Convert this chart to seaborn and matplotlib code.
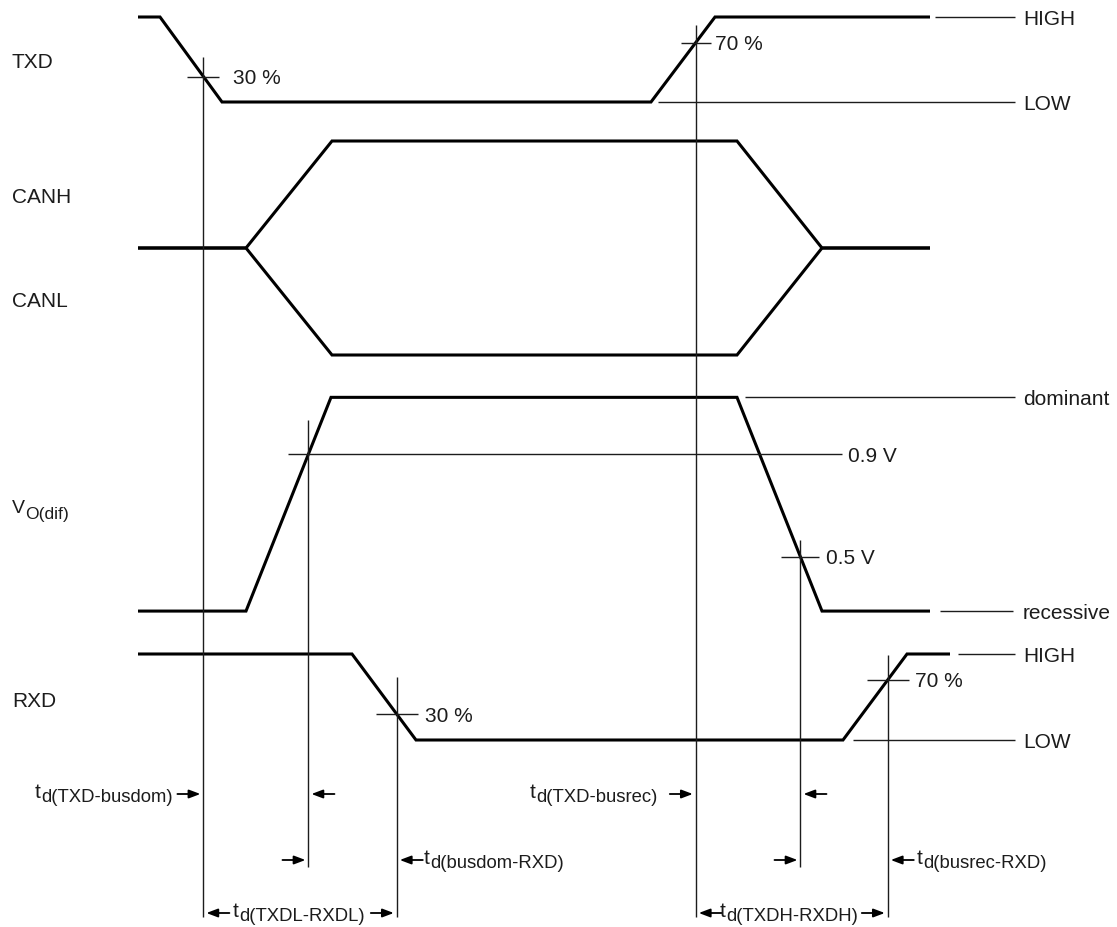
import numpy as np
import pandas as pd
import matplotlib
matplotlib.use("Agg")
import matplotlib.pyplot as plt
import seaborn as sns
from matplotlib.font_manager import FontProperties

# ---------------------------------------------------------------------------
# Waveform data: breakpoint times (arbitrary time units) and signal levels
# ---------------------------------------------------------------------------
txd_time = [138, 160, 222, 651, 715, 930]
txd_level = [1, 1, 0, 0, 1, 1]                 # logic level, 0 = LOW, 1 = HIGH

can_time = [138, 246, 332, 737, 822, 930]
canh_level = [0, 0, 1, 1, 0, 0]                # normalised swing, 0 = recessive
canl_level = [0, 0, -1, -1, 0, 0]

vdif_time = [138, 246, 331, 737, 822, 930]
vdif_level = [0.29, 0.29, 1.12, 1.12, 0.29, 0.29]   # differential voltage, V

rxd_time = [138, 352, 416, 843, 907, 950]
rxd_level = [1, 1, 0, 0, 1, 1]

# measurement thresholds
txd_fall_thr, txd_rise_thr = 0.30, 0.70
vdif_rise_thr, vdif_fall_thr = 0.9, 0.5
rxd_fall_thr, rxd_rise_thr = 0.30, 0.70

signal_names = ["TXD", "CANH", "CANL", "RXD"]
level_names = ["HIGH", "LOW", "dominant", "recessive"]

# ---------------------------------------------------------------------------
# Layout: each row maps a level to a vertical position  (y = zero + gain*level)
# ---------------------------------------------------------------------------
ROWS = {
    "TXD": (102.0, -85.0),
    "CAN": (248.0, -107.0),
    "VDIF": (685.75, -257.5),
    "RXD": (740.0, -86.0),
}
W, H = 1117, 927
INK = "#1c1c1c"
THICK = 2.2
THIN = 1.0
FS = 15.0
SUB_FS = 13.3


def ypos(row, level):
    zero, gain = ROWS[row]
    return zero + gain * np.asarray(level, dtype=float)


def crossing(time, level, thr, rising):
    t = np.asarray(time, float)
    lv = np.asarray(level, float)
    for i in range(len(t) - 1):
        a, b = lv[i], lv[i + 1]
        if (rising and a < thr <= b) or ((not rising) and a > thr >= b):
            return t[i] + (thr - a) / (b - a) * (t[i + 1] - t[i])
    raise ValueError("threshold not crossed")


sns.set_theme(style="white")
plt.rcParams["font.family"] = ["Liberation Sans", "DejaVu Sans"]

fig = plt.figure(figsize=(W / 100, H / 100), dpi=100)
ax = fig.add_axes([0, 0, 1, 1])

# --- waveforms -------------------------------------------------------------
traces = [
    ("TXD", txd_time, ypos("TXD", txd_level)),
    ("CANH", can_time, ypos("CAN", canh_level)),
    ("CANL", can_time, ypos("CAN", canl_level)),
    ("VDIF", vdif_time, ypos("VDIF", vdif_level)),
    ("RXD", rxd_time, ypos("RXD", rxd_level)),
]
df = pd.concat(
    [pd.DataFrame({"t": t, "y": y, "trace": n}) for n, t, y in traces],
    ignore_index=True,
)
sns.lineplot(data=df, x="t", y="y", units="trace", estimator=None, sort=False,
             color="black", lw=THICK, ax=ax, legend=False)
for ln in ax.lines:
    ln.set_solid_joinstyle("miter")
    ln.set_solid_capstyle("butt")

# --- measurement cursors ---------------------------------------------------
c_txd_l = crossing(txd_time, txd_level, txd_fall_thr, rising=False)
c_txd_h = crossing(txd_time, txd_level, txd_rise_thr, rising=True)
c_v09 = crossing(vdif_time, vdif_level, vdif_rise_thr, rising=True)
c_v05 = crossing(vdif_time, vdif_level, vdif_fall_thr, rising=False)
c_rxd_l = crossing(rxd_time, rxd_level, rxd_fall_thr, rising=False)
c_rxd_h = crossing(rxd_time, rxd_level, rxd_rise_thr, rising=True)

y_txd_l = float(ypos("TXD", txd_fall_thr))
y_txd_h = float(ypos("TXD", txd_rise_thr))
y_v09 = float(ypos("VDIF", vdif_rise_thr))
y_v05 = float(ypos("VDIF", vdif_fall_thr))
y_rxd_l = float(ypos("RXD", rxd_fall_thr))
y_rxd_h = float(ypos("RXD", rxd_rise_thr))

# (x, y of crossing, overshoot above, bottom, tick half width or None,
#  label, label offset)
cursors = [
    (c_txd_l, y_txd_l, 20, 917, 16, f"{txd_fall_thr * 100:.0f} %", 30),
    (c_txd_h, y_txd_h, 18, 917, 15, f"{txd_rise_thr * 100:.0f} %", 19),
    (c_v09, y_v09, 34, 867, None, None, 0),
    (c_v05, y_v05, 17, 867, 19, f"{vdif_fall_thr:.1f} V", 26),
    (c_rxd_l, y_rxd_l, 37, 917, 21, f"{rxd_fall_thr * 100:.0f} %", 28),
    (c_rxd_h, y_rxd_h, 25, 917, 21, f"{rxd_rise_thr * 100:.0f} %", 27),
]
for x, yc, over, bottom, half, lab, off in cursors:
    ax.plot([x, x], [yc - over, bottom], color=INK, lw=THIN,
            solid_capstyle="butt")
    if half is not None:
        ax.plot([x - half, x + half], [yc, yc], color=INK, lw=THIN,
                solid_capstyle="butt")
    if lab is not None:
        ax.text(x + off, yc + 7.5, lab, fontsize=FS, color=INK,
                ha="left", va="baseline")

# --- reference levels ------------------------------------------------------
ref_lines = [
    (935, 1015, float(ypos("TXD", 1)), level_names[0]),
    (658, 1015, float(ypos("TXD", 0)), level_names[1]),
    (745, 1015, float(ypos("VDIF", max(vdif_level))), level_names[2]),
    (940, 1013, float(ypos("VDIF", min(vdif_level))), level_names[3]),
    (958, 1015, float(ypos("RXD", 1)), level_names[0]),
    (853, 1015, float(ypos("RXD", 0)), level_names[1]),
]
for x0, x1, y, lab in ref_lines:
    ax.plot([x0, x1], [y, y], color=INK, lw=THIN, solid_capstyle="butt")
    ax.text(1023, y + 7.5, lab, fontsize=FS, color=INK, ha="left",
            va="baseline")

# 0.9 V threshold line
ax.plot([288, 842], [y_v09, y_v09], color=INK, lw=THIN, solid_capstyle="butt")
ax.text(848, y_v09 + 7.5, f"{vdif_rise_thr:.1f} V", fontsize=FS, color=INK,
        ha="left", va="baseline")

# --- signal names ----------------------------------------------------------
ax.text(12, 68, signal_names[0], fontsize=FS, color=INK, va="baseline")
ax.text(12, 203, signal_names[1], fontsize=FS, color=INK, va="baseline")
ax.text(12, 307, signal_names[2], fontsize=FS, color=INK, va="baseline")
ax.text(12, 707, signal_names[3], fontsize=FS, color=INK, va="baseline")

ax.set_xlim(0, W)
ax.set_ylim(H, 0)
ax.axis("off")

renderer = fig.canvas.get_renderer()


def text_width(s, size):
    w, _, _ = renderer.get_text_width_height_descent(
        s, FontProperties(family="Liberation Sans", size=size), ismath=False)
    return w


def sub_label(x, y, main, sub, ha="left", size=FS, sub_size=SUB_FS,
              drop=4.0, rise=4.0):
    """Main glyph with a lowered subscript; y is the arrow/row centre."""
    wm = text_width(main, size)
    ws = text_width(sub, sub_size)
    left = x if ha == "left" else x - (wm + 0.5 + ws)
    ax.text(left, y + rise, main, fontsize=size, color=INK,
            ha="left", va="baseline")
    ax.text(left + wm + 0.5, y + rise + drop, sub, fontsize=sub_size,
            color=INK, ha="left", va="baseline")


sub_label(12, 507, "V", "O(dif)", size=14, sub_size=12.6, drop=6, rise=6)

# --- delay dimension arrows -----------------------------------------------
ROW_Y = [794, 860, 913]
GAP, LEN = 3.0, 23.0


def arrow(cursor, y, from_left):
    if from_left:
        head, tail = cursor - GAP, cursor - GAP - LEN
    else:
        head, tail = cursor + GAP, cursor + GAP + LEN
    ax.annotate("", xy=(head, y), xytext=(tail, y),
                arrowprops=dict(arrowstyle="-|>,head_length=0.45,head_width=0.17",
                                color="black", lw=1.3, shrinkA=0, shrinkB=0,
                                mutation_scale=15))


arrow(c_txd_l, ROW_Y[0], True)
arrow(c_v09, ROW_Y[0], False)
arrow(c_txd_h, ROW_Y[0], True)
arrow(c_v05, ROW_Y[0], False)

arrow(c_v09, ROW_Y[1], True)
arrow(c_rxd_l, ROW_Y[1], False)
arrow(c_v05, ROW_Y[1], True)
arrow(c_rxd_h, ROW_Y[1], False)

arrow(c_txd_l, ROW_Y[2], False)
arrow(c_rxd_l, ROW_Y[2], True)
arrow(c_txd_h, ROW_Y[2], False)
arrow(c_rxd_h, ROW_Y[2], True)

sub_label(c_txd_l - 31, ROW_Y[0], "t", "d(TXD-busdom)", ha="right")
sub_label(c_txd_h - 38, ROW_Y[0], "t", "d(TXD-busrec)", ha="right")
sub_label(c_rxd_l + 27, ROW_Y[1], "t", "d(busdom-RXD)")
sub_label(c_rxd_h + 29, ROW_Y[1], "t", "d(busrec-RXD)")
sub_label(c_txd_l + 29, ROW_Y[2], "t", "d(TXDL-RXDL)")
sub_label(c_txd_h + 24, ROW_Y[2], "t", "d(TXDH-RXDH)")

fig.savefig("out.png", dpi=100, facecolor="white")
